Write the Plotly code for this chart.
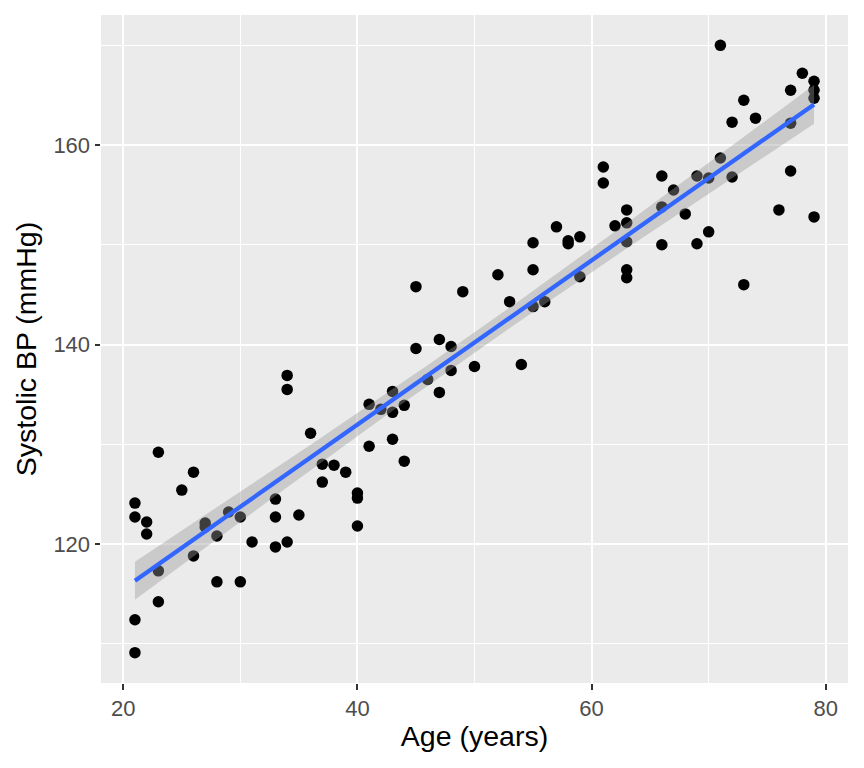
import numpy as np
import plotly.graph_objects as go

age = [21, 21, 21, 21, 22, 22, 23, 23, 23, 25, 26, 26, 27, 27, 28, 28, 29, 30, 30, 31,
       33, 33, 33, 34, 34, 34, 35, 36, 37, 37, 38, 39, 40, 40, 40, 41, 41, 42, 43, 43,
       43, 44, 44, 45, 45, 46, 47, 47, 48, 48, 49, 50, 52, 53, 54, 55, 55, 55, 56, 57,
       58, 58, 59, 59, 61, 61, 62, 63, 63, 63, 63, 63, 66, 66, 66, 67, 68, 69, 69, 70,
       70, 71, 71, 72, 72, 73, 73, 74, 76, 77, 77, 77, 78, 79, 79, 79, 79]
sbp = [124.1, 122.7, 112.4, 109.1, 122.2, 121.0, 129.2, 117.3, 114.2, 125.4, 127.2, 118.8,
       122.1, 121.7, 120.8, 116.2, 123.2, 122.7, 116.2, 120.2, 124.5, 122.7, 119.7, 136.9,
       135.5, 120.2, 122.9, 131.1, 128.0, 126.2, 127.9, 127.2, 125.1, 124.6, 121.8, 134.0,
       129.8, 133.5, 135.3, 133.2, 130.5, 133.9, 128.3, 145.8, 139.6, 136.5, 140.5, 135.2,
       139.8, 137.4, 145.3, 137.8, 147.0, 144.3, 138.0, 150.2, 147.5, 143.8, 144.3, 151.8,
       150.4, 150.1, 150.8, 146.8, 157.8, 156.2, 151.9, 153.5, 152.2, 150.3, 147.5, 146.7,
       156.9, 153.8, 150.0, 155.5, 153.1, 156.9, 150.1, 156.7, 151.3, 170.0, 158.7, 162.3,
       156.8, 164.5, 146.0, 162.7, 153.5, 165.5, 162.2, 157.4, 167.2, 166.4, 165.5, 164.7,
       152.8]

x_ticks = [20, 40, 60, 80]
x_minor = [30, 50, 70]
y_ticks = [120, 140, 160]
y_minor = [110, 130, 150, 170]

# linear model fit (geom_smooth(method = "lm")) with 95% confidence band
x = np.array(age, dtype=float)
y = np.array(sbp, dtype=float)
n = len(x)
X = np.column_stack([np.ones(n), x])
beta, *_ = np.linalg.lstsq(X, y, rcond=None)
resid = y - X @ beta
df = n - 2
s2 = resid @ resid / df
XtX_inv = np.linalg.inv(X.T @ X)
z = 1.959964
tq = z + (z**3 + z) / (4 * df) + (5 * z**5 + 16 * z**3 + 3 * z) / (96 * df**2)
xs = np.linspace(x.min(), x.max(), 80)
Xs = np.column_stack([np.ones_like(xs), xs])
fit = Xs @ beta
se = np.sqrt(np.einsum('ij,jk,ik->i', Xs, XtX_inv, Xs) * s2)
lo = fit - tq * se
hi = fit + tq * se

FONT = 'Liberation Sans, Arial, Helvetica, sans-serif'

fig = go.Figure()
fig.add_trace(go.Scatter(x=x, y=y, mode='markers',
                         marker=dict(color='black', size=11.5, line=dict(width=0)),
                         showlegend=False, hoverinfo='x+y'))
fig.add_trace(go.Scatter(x=np.concatenate([xs, xs[::-1]]),
                         y=np.concatenate([hi, lo[::-1]]),
                         fill='toself', fillcolor='rgba(153,153,153,0.4)',
                         line=dict(width=0), mode='lines',
                         showlegend=False, hoverinfo='skip'))
fig.add_trace(go.Scatter(x=xs, y=fit, mode='lines',
                         line=dict(color='#3366FF', width=4.3),
                         showlegend=False, hoverinfo='skip'))

xr = [x.min() - 0.05 * (x.max() - x.min()), x.max() + 0.05 * (x.max() - x.min())]
yr = [y.min() - 0.05 * (y.max() - y.min()), y.max() + 0.05 * (y.max() - y.min())]

axis_common = dict(
    showgrid=True, gridcolor='white', gridwidth=2.1,
    zeroline=False, showline=False,
    ticks='outside', ticklen=5.5, tickwidth=2.1, tickcolor='#333333',
    tickfont=dict(family=FONT, size=22, color='#4D4D4D'),
    automargin=False,
)

fig.update_layout(
    width=856, height=760,
    paper_bgcolor='white', plot_bgcolor='#EBEBEB',
    margin=dict(l=93, r=16, t=7, b=85),
    font=dict(family=FONT, color='black'),
    xaxis=dict(range=xr, tickvals=x_ticks, ticktext=[str(v) for v in x_ticks],
               minor=dict(tickvals=x_minor, showgrid=True, gridcolor='white', gridwidth=1.05),
               title=dict(text='Age (years)', font=dict(family=FONT, size=28.5, color='black'), standoff=6),
               **axis_common),
    yaxis=dict(range=yr, tickvals=y_ticks, ticktext=[str(v) for v in y_ticks],
               minor=dict(tickvals=y_minor, showgrid=True, gridcolor='white', gridwidth=1.05),
               title=dict(text='Systolic BP (mmHg)', font=dict(family=FONT, size=28.5, color='black'), standoff=8),
               **axis_common),
)

fig.write_html('out.html')
